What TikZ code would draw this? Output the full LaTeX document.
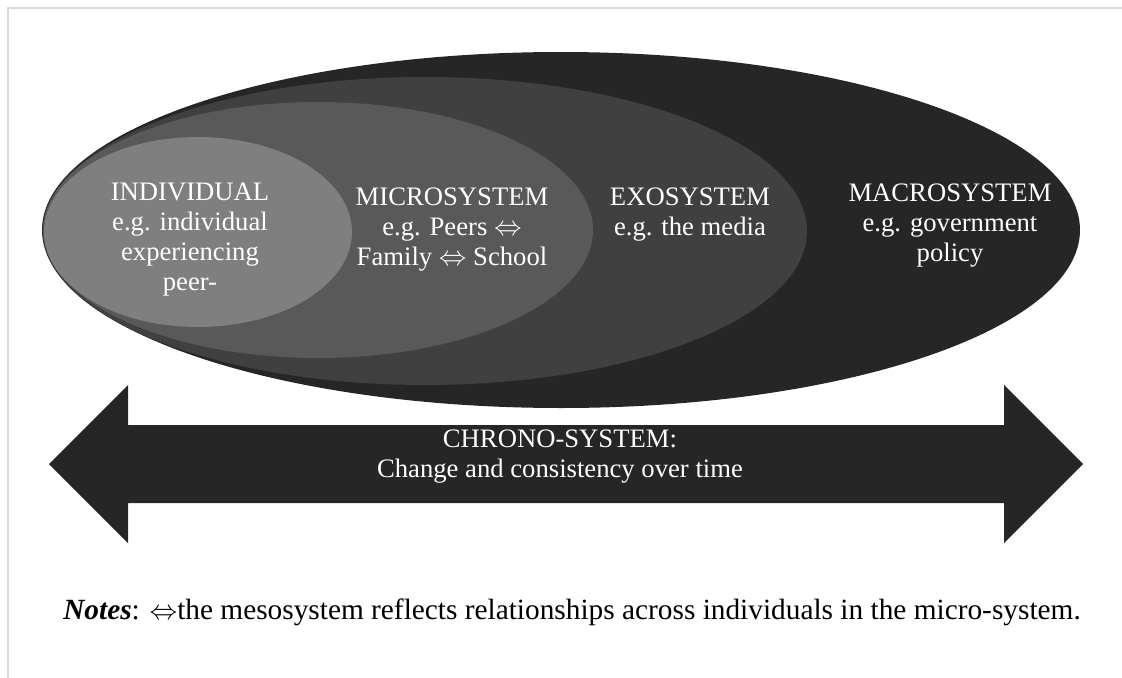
\documentclass[tikz,border=0pt]{standalone}
\usepackage{amsmath}
\usepackage{fontspec}
\setmainfont{Liberation Serif}
\usepackage{tikz}

\tikzset{
  lbl/.style={text=white, align=center, inner sep=0.75pt, font=\fontsize{20}{22.5}\selectfont},
}

\begin{document}
\begin{tikzpicture}[x=0.75pt,y=0.75pt,yscale=-1,xscale=1]
\path[use as bounding box] (0,0) rectangle (1122,678);

%Frame
\draw [color={rgb, 255:red, 217; green, 217; blue, 217 }, line width=1.5] (8,678) -- (8,8) -- (1122,8) ;

%Shape: Ellipse (macro)
\fill [color={rgb, 255:red, 38; green, 38; blue, 38 }] (561,230) ellipse (519 and 178) ;
%Shape: Ellipse (exo)
\fill [color={rgb, 255:red, 64; green, 64; blue, 64 }] (425,231) ellipse (382 and 154) ;
%Shape: Ellipse (micro)
\fill [color={rgb, 255:red, 89; green, 89; blue, 89 }] (318,230) ellipse (275 and 128) ;
%Shape: Ellipse (individual)
\fill [color={rgb, 255:red, 127; green, 127; blue, 127 }] (198,232) ellipse (154 and 95) ;

%Shape: Double Arrow
\fill [color={rgb, 255:red, 38; green, 38; blue, 38 }] (49,464) -- (128,385) -- (128,425) -- (1004,425) -- (1004,385) -- (1083,464) -- (1004,543) -- (1004,503) -- (128,503) -- (128,543) -- cycle ;

% Text Node
\node [lbl] (individual) at (190,240) {INDIVIDUAL\\e.g. individual\\experiencing\\peer-};
% Text Node
\node [lbl] (micro) at (452,230) {MICROSYSTEM\\e.g. Peers $\Leftrightarrow$\\Family $\Leftrightarrow$ School};
% Text Node
\node [lbl] (exo) at (690,215) {EXOSYSTEM\\e.g. the media};
% Text Node
\node [lbl] (macro) at (950,226) {MACROSYSTEM\\e.g. government\\policy};
% Text Node
\node [lbl] (chrono) at (560,457) {CHRONO-SYSTEM:\\Change and consistency over time};
% Text Node
\node [inner sep=0.75pt, font=\fontsize{22}{26}\selectfont] (notes) at (572,612) {\textbf{\textit{Notes}}: $\Leftrightarrow$the mesosystem reflects relationships across individuals in the micro-system.};

\end{tikzpicture}
\end{document}
